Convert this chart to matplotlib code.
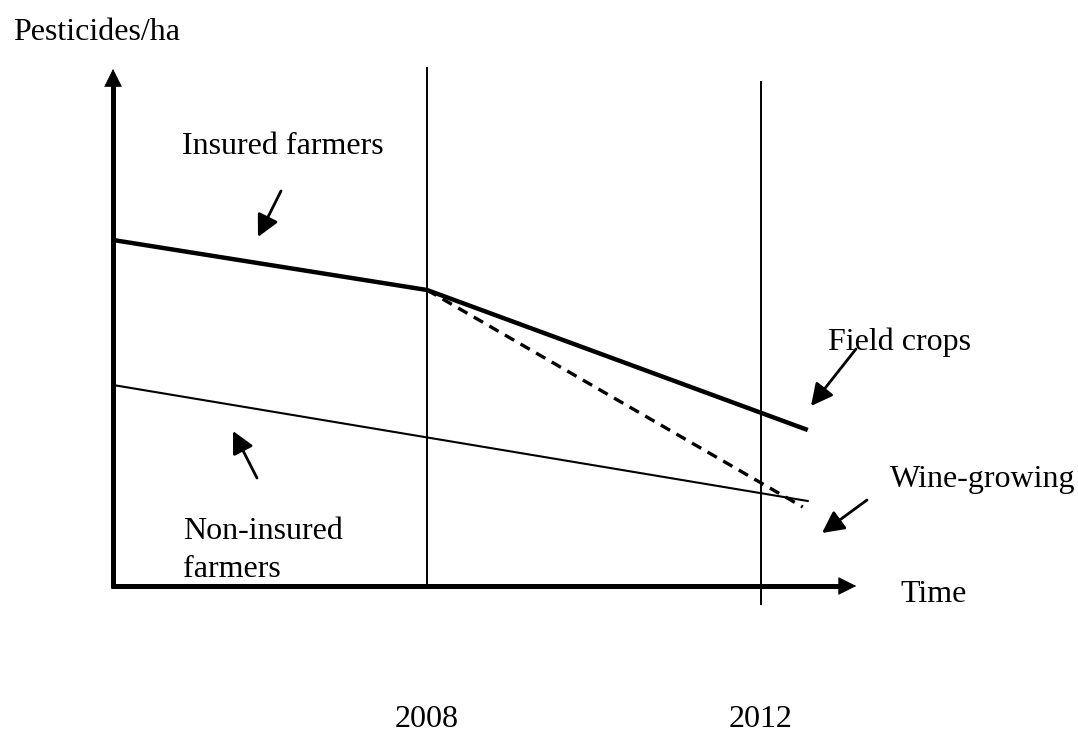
import matplotlib
matplotlib.use("Agg")
import matplotlib.pyplot as plt

# schematic values: x in years, y in arbitrary pesticide units
years_insured = [2004.24, 2008, 2012.56]
insured = [3.46, 2.96, 1.56]
years_wine = [2008, 2012.5]
wine = [2.96, 0.79]
years_non = [2004.24, 2012.56]
non_insured = [2.01, 0.85]
marks = [2008, 2012]
mark_labels = ["2008", "2012"]

x0, y0 = 2004.24, 0.0          # origin of the drawn axes
x_end, y_end = 2013.14, 5.17   # arrow tips


def px(x):
    # pixel column -> year (only used for placing labels)
    return 2008 + (x - 427) / 83.5


def py(y):
    # pixel row -> pesticide units (only used for placing labels)
    return (586 - y) / 100


plt.rcParams['font.family'] = ['Liberation Serif', 'DejaVu Serif']
fs = 23

fig = plt.figure(figsize=(10.78, 7.35), dpi=100)
ax = fig.add_axes([0, 0, 1, 1])
ax.set_xlim(px(0), px(1078))
ax.set_ylim(py(735), py(0))
ax.axis("off")

# axes with arrow heads
ax.plot([x0, x0], [y0 - 0.02, y_end - 0.1], color="black", lw=3.6,
        solid_capstyle="butt")
ax.plot([x0 - 0.03, x_end - 0.1], [y0, y0], color="black", lw=3.6,
        solid_capstyle="butt")
head = dict(arrowstyle="-|>,head_length=0.6,head_width=0.3", lw=0.5,
            color="black", mutation_scale=20, shrinkA=0, shrinkB=0)
ax.annotate("", xy=(x0, y_end), xytext=(x0, y_end - 0.3), arrowprops=head)
ax.annotate("", xy=(x_end, y0), xytext=(x_end - 0.4, y0), arrowprops=head)

# vertical year lines
ax.plot([marks[0], marks[0]], [0, 5.18], color="black", lw=1.4)
ax.plot([marks[1], marks[1]], [-0.18, 5.04], color="black", lw=1.4)

# series
ax.plot(years_insured, insured, color="black", lw=3.2, solid_capstyle="butt")
ax.plot(years_wine, wine, color="black", lw=2.4, ls=(0, (3.2, 2.2)))
ax.plot(years_non, non_insured, color="black", lw=1.5)

# labels
ax.text(px(13), py(40), "Pesticides/ha", fontsize=fs, va="baseline")
ax.text(px(182), py(154), "Insured farmers", fontsize=fs, va="baseline")
ax.text(px(828), py(350), "Field crops", fontsize=fs, va="baseline")
ax.text(px(890), py(487), "Wine-growing", fontsize=fs, va="baseline")
ax.text(px(183), py(539), "Non-insured", fontsize=fs, va="baseline")
ax.text(px(183), py(577), "farmers", fontsize=fs, va="baseline")
ax.text(px(900), py(602), "Time", fontsize=fs, va="baseline")
for m, lab in zip(marks, mark_labels):
    ax.text(m, py(727), lab, fontsize=fs, ha="center", va="baseline")

# pointer arrows
ptr = dict(arrowstyle="-|>,head_length=0.55,head_width=0.28", lw=2.0,
           color="black", mutation_scale=24, shrinkA=0, shrinkB=0)
ax.annotate("", xy=(px(258), py(237)), xytext=(px(281), py(191)), arrowprops=ptr)
ax.annotate("", xy=(px(233), py(431)), xytext=(px(257), py(478)), arrowprops=ptr)
ax.annotate("", xy=(px(811), py(406)), xytext=(px(856), py(349)), arrowprops=ptr)
ax.annotate("", xy=(px(822), py(533)), xytext=(px(867), py(500)), arrowprops=ptr)

fig.savefig("out.png", dpi=100)
